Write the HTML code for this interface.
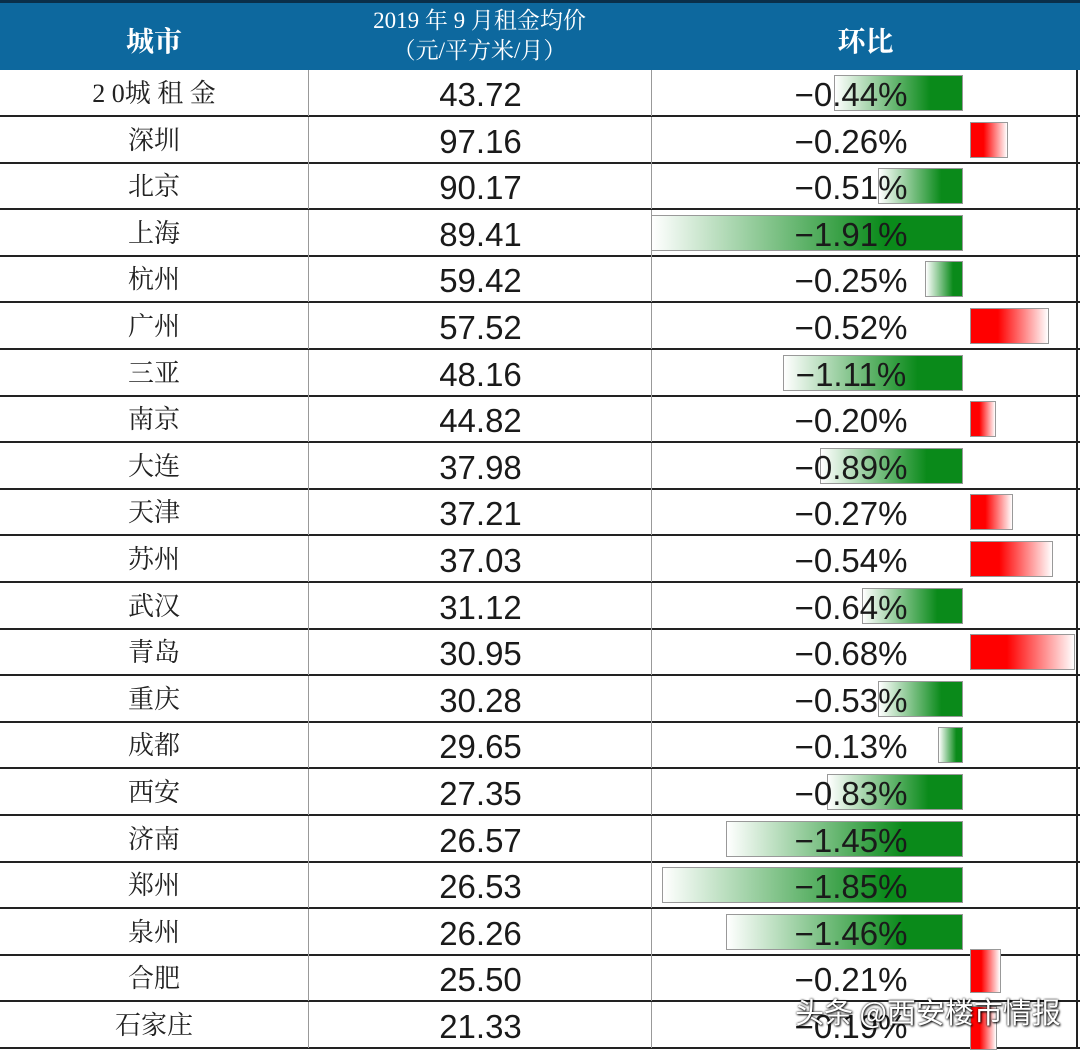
<!DOCTYPE html>
<html><head><meta charset="utf-8"><style>
body{margin:0;width:1080px;height:1049px;background:#fff;position:relative;overflow:hidden;font-family:"Liberation Sans",sans-serif}
.hd{position:absolute;left:0;top:0;width:1080px;height:70px;background:#0d689e;border-top:3px solid #0a2f4a;box-sizing:border-box}
.h{position:absolute;color:#fff;text-align:center;font-family:"Liberation Serif","Noto Serif CJK SC",serif;font-weight:bold}
.row{position:absolute;left:0;width:1080px;height:47px;border-bottom:2px solid #222;box-sizing:border-box}
.c{position:absolute;top:0;height:46px;line-height:50px;text-align:center}
.city{left:0;width:308px;font-family:"Liberation Serif","Noto Serif CJK SC",serif;font-size:26px;color:#222;line-height:48px}
.num{left:308px;width:343px;font-size:33px;color:#1a1a1a;border-left:1px solid #999}
.pct{left:651px;width:398px;padding-right:26px;font-size:33px;color:#1a1a1a;border-left:1px solid #999;border-right:2px solid #222}
.g{position:absolute;height:36px;background:linear-gradient(to right,#fff,#0a8a1a 75%,#0a8a1a);border:1px solid #999;box-sizing:border-box}
.r{position:absolute;height:36px;background:linear-gradient(to right,#f00,#f00 35%,#fff);border:1px solid #999;box-sizing:border-box}
.wm{position:absolute;left:795px;top:990px;font-family:"Noto Sans CJK SC",sans-serif;font-size:29px;color:#fff;text-shadow:0 0 2px #000,1px 1px 2px #000;z-index:5}
</style></head><body>
<div class="hd"></div>
<div class="h" style="left:0;width:308px;top:20px;font-size:28px">城市</div>
<div class="h" style="left:308px;width:343px;top:6px;font-size:23px;line-height:30px;font-weight:normal">2019 年 9 月租金均价<br>（元/平方米/月）</div>
<div class="h" style="left:651px;width:429px;top:20px;font-size:28px">环比</div>
<div id="t"></div>
<div class="wm">头条 @西安楼市情报</div>
<script>
var d=[["20城租金","43.72","-0.44%","g",834,963],["深圳","97.16","-0.26%","r",970,1008],["北京","90.17","-0.51%","g",878,963],["上海","89.41","-1.91%","g",651,963],["杭州","59.42","-0.25%","g",925,963],["广州","57.52","-0.52%","r",970,1049],["三亚","48.16","-1.11%","g",783,963],["南京","44.82","-0.20%","r",970,996],["大连","37.98","-0.89%","g",820,963],["天津","37.21","-0.27%","r",970,1013],["苏州","37.03","-0.54%","r",970,1053],["武汉","31.12","-0.64%","g",862,963],["青岛","30.95","-0.68%","r",970,1075],["重庆","30.28","-0.53%","g",878,963],["成都","29.65","-0.13%","g",938,963],["西安","27.35","-0.83%","g",827,963],["济南","26.57","-1.45%","g",726,963],["郑州","26.53","-1.85%","g",662,963],["泉州","26.26","-1.46%","g",726,963],["合肥","25.50","-0.21%","r",970,1001],["石家庄","21.33","-0.19%","r",970,997]];
var h="";
d.forEach(function(r,i){var y=70+i*46.6;
var bt=(i==19)?y-6:(i==20?y+4:y+5);var bh=(i==19||i==20)?44:36;
h+='<div class="'+r[3]+'" style="left:'+r[4]+'px;width:'+(r[5]-r[4])+'px;top:'+bt+'px;height:'+bh+'px;z-index:1"></div>';
h+='<div class="row" style="top:'+y+'px"><div class="c city">'+(i==0?'2 0城 租 金':r[0])+'</div><div class="c num">'+r[1]+'</div><div class="c pct" style="z-index:2">'+r[2].replace('-','&minus;')+'</div></div>';});
document.getElementById('t').innerHTML=h;
</script>
</body></html>
